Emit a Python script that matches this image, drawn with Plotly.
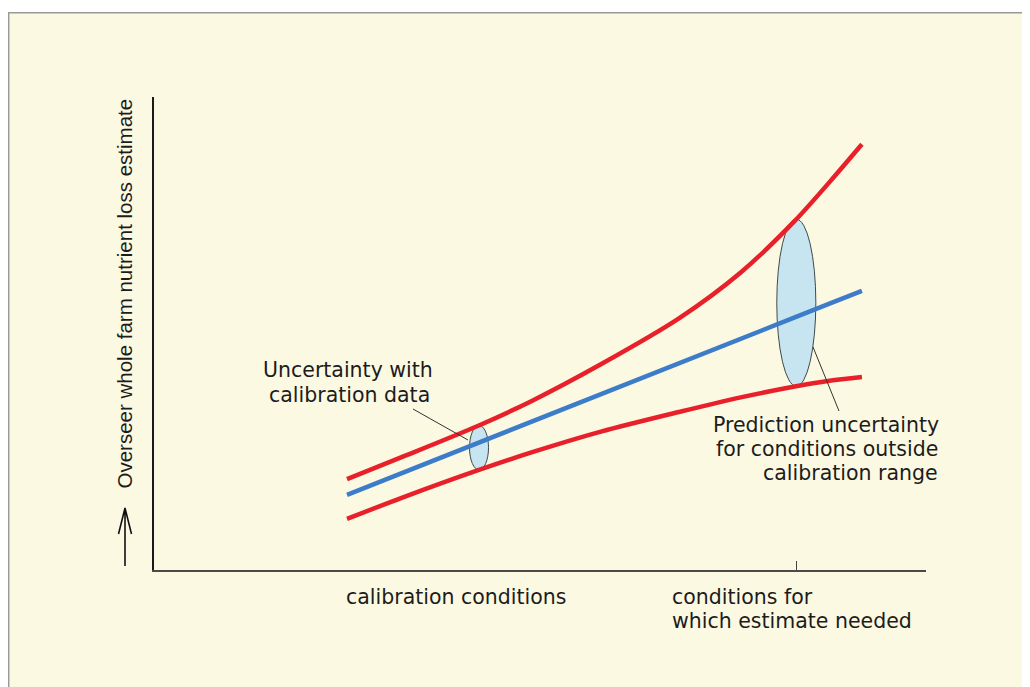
import numpy as np
import plotly.graph_objects as go

# ---------------- data ----------------
x_conditions = [2.50, 3.20, 4.20, 4.90, 5.80, 6.80, 7.60, 8.30, 8.75, 9.17]
estimate_mean = [1.59, 2.04, 2.68, 3.14, 3.72, 4.37, 4.88, 5.34, 5.63, 5.90]
upper_bound = [1.92, 2.38, 3.05, 3.58, 4.36, 5.32, 6.29, 7.38, 8.20, 9.00]
lower_bound = [1.08, 1.52, 2.11, 2.49, 2.93, 3.34, 3.65, 3.88, 4.00, 4.08]

calibration_x = 4.21          # where the calibration uncertainty ellipse sits
estimate_x = 8.32             # conditions for which estimate needed (tick)
x_tick_vals = [estimate_x]

y_label = "Overseer whole farm nutrient loss estimate"
x_label_left = "calibration conditions"
x_label_right = ["conditions for", "which estimate needed"]
note_calibration = ["Uncertainty with", "calibration data"]
note_prediction = ["Prediction uncertainty", "for conditions outside", "calibration range"]

# ---------------- layout geometry ----------------
OFF = 8                       # page body margin of the html page
W, H = 1030, 687
PW, PH = 772, 473
L, T = 154 - OFF, 97 - OFF
R, B = W - L - PW, H - T - PH


def px(x, y):
    """page pixel -> paper coordinates"""
    return (x - OFF - L) / PW, (T + PH - (y - OFF)) / PH


CREAM = "#FCF9E2"
RED = "#E8202A"
BLUE = "#3D7CC9"
FILL = "#C7E5F1"
TXT = "#1c1c1c"
HFONT = dict(family="DejaVu Sans", size=20.5, color=TXT)

fig = go.Figure()

fig.add_trace(go.Scatter(x=x_conditions, y=upper_bound, mode="lines",
                         line=dict(color=RED, width=4.5, shape="spline", smoothing=0.8),
                         hoverinfo="skip", showlegend=False))
fig.add_trace(go.Scatter(x=x_conditions, y=lower_bound, mode="lines",
                         line=dict(color=RED, width=4.5, shape="spline", smoothing=0.8),
                         hoverinfo="skip", showlegend=False))
fig.add_trace(go.Scatter(x=x_conditions, y=estimate_mean, mode="lines",
                         line=dict(color=BLUE, width=4.5),
                         hoverinfo="skip", showlegend=False))

shapes = []
# cream panel with grey border (left/top visible)
x0, y0 = px(8.7, 12.7)
x1, y1 = px(W + 40, H + 40)
shapes.append(dict(type="rect", xref="paper", yref="paper", x0=x0, y0=y1, x1=x1, y1=y0,
                   fillcolor=CREAM, line=dict(color="#9a9a9a", width=1.5), layer="below"))

# uncertainty ellipses spanning the band at given conditions
for cx, hw in [(calibration_x, 0.123), (estimate_x, 0.253)]:
    top = float(np.interp(cx, x_conditions, upper_bound))
    bot = float(np.interp(cx, x_conditions, lower_bound))
    shapes.append(dict(type="circle", xref="x", yref="y", x0=cx - hw, x1=cx + hw,
                       y0=bot, y1=top, fillcolor=FILL,
                       line=dict(color="#3e4a4a", width=1), layer="below"))

# pointer lines
for (ax_, ay_), (bx_, by_) in [((413, 409), (468, 440)), ((813, 347), (839, 411))]:
    a = px(ax_, ay_)
    b = px(bx_, by_)
    shapes.append(dict(type="line", xref="paper", yref="paper", x0=a[0], y0=a[1],
                       x1=b[0], y1=b[1], line=dict(color="#333333", width=1)))

# upward arrow beside the y label
p_tip = px(125, 508)
p_bot = px(125, 566)
p_l = px(118.5, 534)
p_r = px(131.5, 534)
path = (f"M {p_bot[0]},{p_bot[1]} L {p_tip[0]},{p_tip[1]} "
        f"M {p_l[0]},{p_l[1]} L {p_tip[0]},{p_tip[1]} L {p_r[0]},{p_r[1]}")
shapes.append(dict(type="path", xref="paper", yref="paper", path=path,
                   line=dict(color="#111111", width=1.6)))

annotations = []


def add_text(text, x, y, xanchor="center", font=HFONT, angle=0):
    xp, yp = px(x, y)
    annotations.append(dict(text=text, x=xp, y=yp, xref="paper", yref="paper",
                            xanchor=xanchor, yanchor="middle", showarrow=False,
                            font=font, textangle=angle))


add_text(note_calibration[0], 348, 370)
add_text(note_calibration[1], 349, 394.5)
add_text(x_label_left, 455.5, 596.5)
add_text(x_label_right[0], 670, 596.5, xanchor="left")
add_text(x_label_right[1], 670, 621, xanchor="left")
add_text(note_prediction[0], 941, 425, xanchor="right")
add_text(note_prediction[1], 940, 448.5, xanchor="right")
add_text(note_prediction[2], 940, 472.5, xanchor="right")
add_text(y_label, 124, 293.5, font=dict(family="Liberation Sans, Arial", size=20.5, color=TXT), angle=-90)

fig.update_layout(
    width=W, height=H, autosize=False,
    margin=dict(l=L, r=R, t=T, b=B, pad=0),
    paper_bgcolor="white", plot_bgcolor="rgba(0,0,0,0)",
    shapes=shapes, annotations=annotations,
    xaxis=dict(range=[0, 10], showgrid=False, zeroline=False, showline=True,
               linecolor="#4a4a4a", linewidth=2, ticks="inside", ticklen=9,
               tickwidth=1, tickcolor="#444444", tickvals=x_tick_vals,
               showticklabels=False, fixedrange=True),
    yaxis=dict(range=[0, 10], showgrid=False, zeroline=False, showline=True,
               linecolor="#1a1a1a", linewidth=2, ticks="", showticklabels=False,
               fixedrange=True),
)

fig.write_html("out.html")
